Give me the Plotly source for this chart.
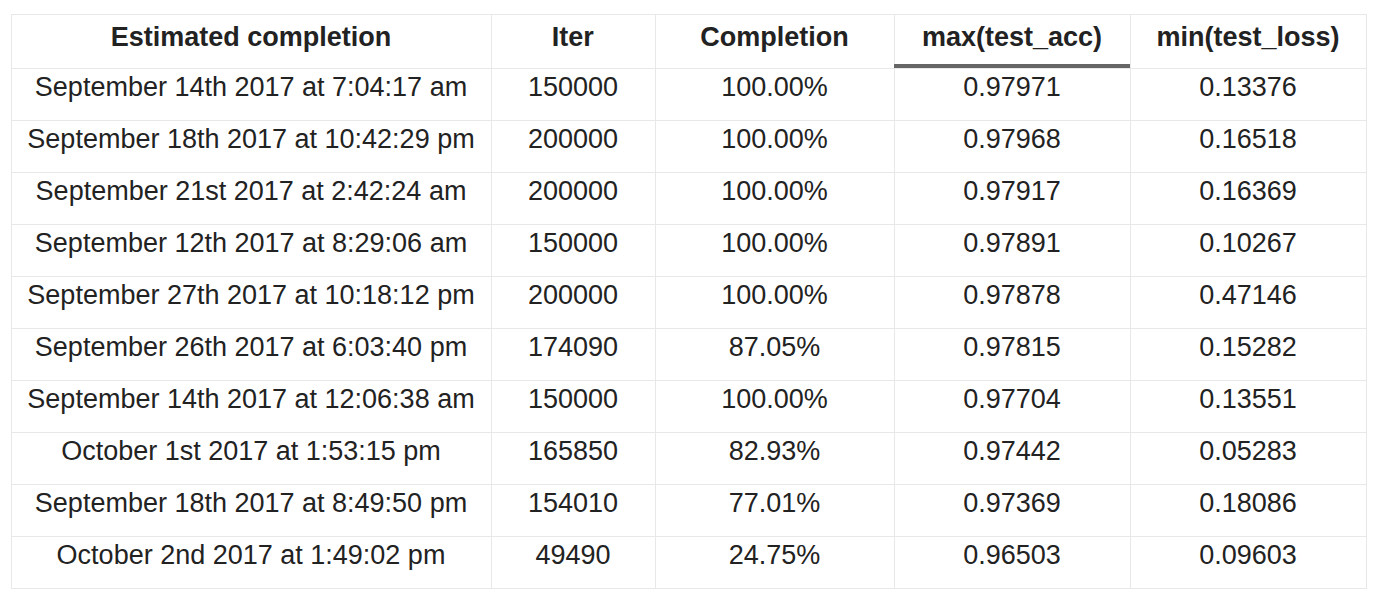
import plotly.graph_objects as go

# the page body adds an 8px margin, so the figure is drawn 16px smaller
OFF = 8
W, H = 1378 - 2 * OFF, 604 - 2 * OFF

headers = ["Estimated completion", "Iter", "Completion", "max(test_acc)", "min(test_loss)"]
est_completion = [
    "September 14th 2017 at 7:04:17 am",
    "September 18th 2017 at 10:42:29 pm",
    "September 21st 2017 at 2:42:24 am",
    "September 12th 2017 at 8:29:06 am",
    "September 27th 2017 at 10:18:12 pm",
    "September 26th 2017 at 6:03:40 pm",
    "September 14th 2017 at 12:06:38 am",
    "October 1st 2017 at 1:53:15 pm",
    "September 18th 2017 at 8:49:50 pm",
    "October 2nd 2017 at 1:49:02 pm",
]
iters = ["150000", "200000", "200000", "150000", "200000",
         "174090", "150000", "165850", "154010", "49490"]
completion = ["100.00%", "100.00%", "100.00%", "100.00%", "100.00%",
              "87.05%", "100.00%", "82.93%", "77.01%", "24.75%"]
max_test_acc = ["0.97971", "0.97968", "0.97917", "0.97891", "0.97878",
                "0.97815", "0.97704", "0.97442", "0.97369", "0.96503"]
min_test_loss = ["0.13376", "0.16518", "0.16369", "0.10267", "0.47146",
                 "0.15282", "0.13551", "0.05283", "0.18086", "0.09603"]

col_widths = [480, 164, 239, 236, 236]
x0, x1 = 11 - OFF, 1366 - OFF
top = 14 - OFF

fnt = dict(family="Liberation Sans, Arial", size=27, color="#222222")

fig = go.Figure(go.Table(
    domain=dict(x=[x0 / W, x1 / W], y=[0, 1 - top / H]),
    columnwidth=col_widths,
    header=dict(
        values=["<b>%s</b>" % h for h in headers],
        height=54,
        fill_color="white",
        line_color="#e8e8e8",
        align="center",
        font=fnt,
    ),
    cells=dict(
        values=[est_completion, iters, completion, max_test_acc, min_test_loss],
        height=52,
        fill_color="white",
        line_color="#e8e8e8",
        align="center",
        font=fnt,
    ),
))

# sort indicator under the max(test_acc) header
fig.add_shape(type="rect", xref="paper", yref="paper",
              x0=(894 - OFF) / W, x1=(1130 - OFF) / W,
              y0=1 - (68 - OFF) / H, y1=1 - (64 - OFF) / H,
              fillcolor="#666666", line_width=0)

fig.update_layout(width=W, height=H, margin=dict(l=0, r=0, t=0, b=0),
                  paper_bgcolor="white")
fig.write_html("out.html")
